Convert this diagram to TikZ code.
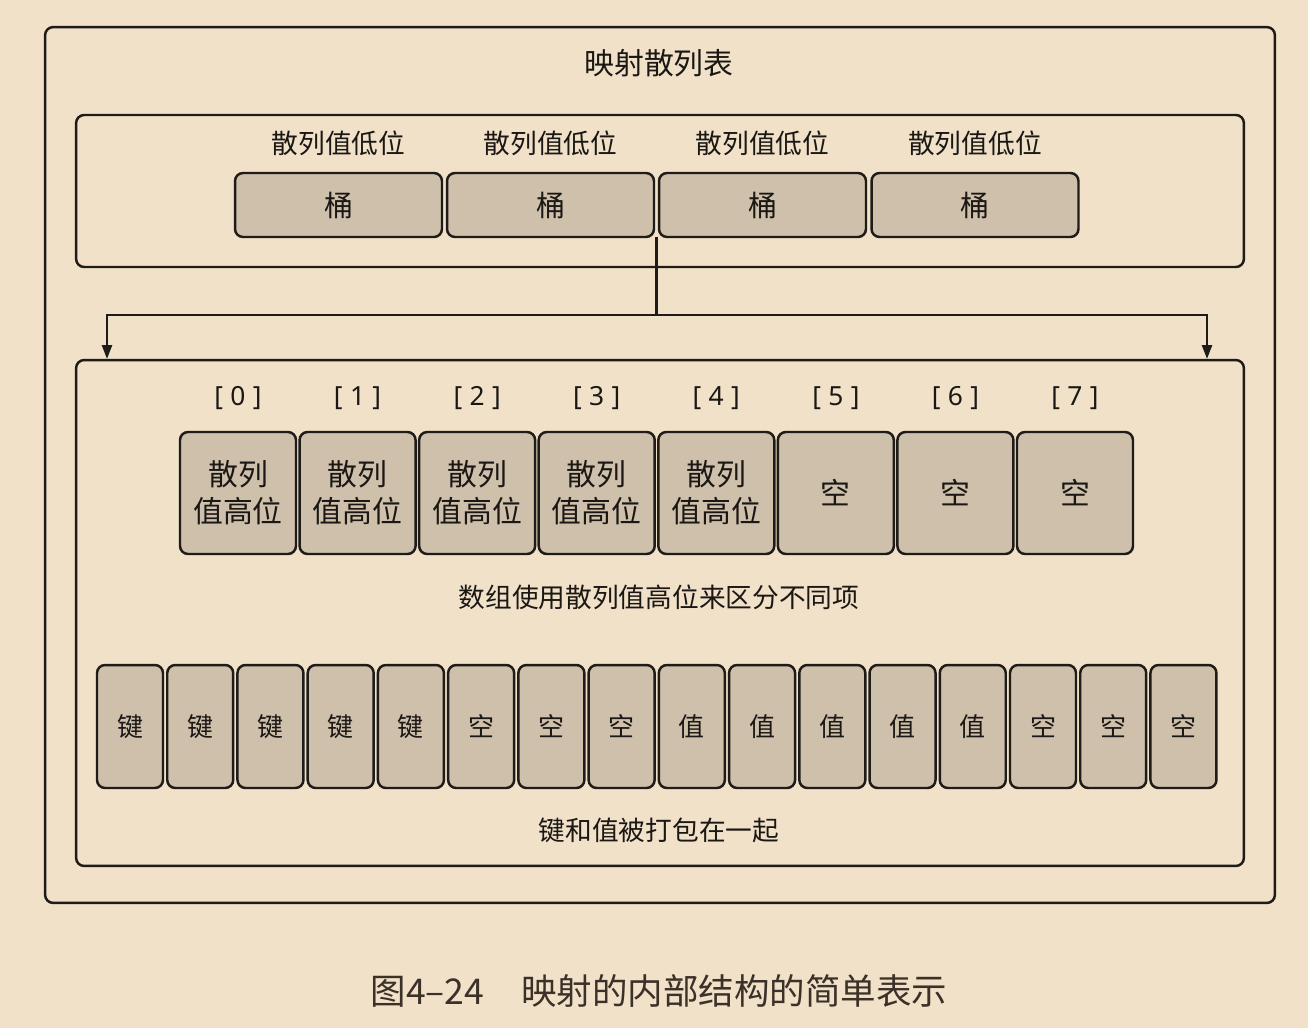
\documentclass[tikz,border=0pt]{standalone}
\usepackage{fontspec}
\setmainfont{Noto Sans CJK SC}
\newfontfamily\latinfont{Noto Sans}
\usetikzlibrary{arrows.meta}
\definecolor{bg}{HTML}{F0E1C8}
\definecolor{cellfill}{HTML}{CEC0AB}
\definecolor{linec}{HTML}{1E1B18}
\definecolor{inkc}{HTML}{1A1714}
\definecolor{capc}{HTML}{3B3129}
\tikzset{
  frame/.style={draw=linec, line width=1.4pt, rounded corners=0.16cm, fill=bg, inner sep=0pt},
  cell/.style={draw=linec, line width=1.4pt, rounded corners=0.16cm, fill=cellfill, inner sep=0pt, text=inkc},
  bucket/.style={cell, minimum width=4.14cm, minimum height=1.28cm, font=\fontsize{16.5pt}{19pt}\selectfont},
  slot/.style={cell, minimum width=2.32cm, minimum height=2.44cm, align=center, font=\fontsize{17pt}{21pt}\selectfont},
  pair/.style={cell, minimum width=1.32cm, minimum height=2.46cm, font=\fontsize{14.8pt}{17pt}\selectfont},
  label/.style={text=inkc, inner sep=0pt, font=\fontsize{15.2pt}{18pt}\selectfont},
  index/.style={text=inkc, inner sep=0pt, font=\latinfont\fontsize{15pt}{18pt}\selectfont},
  link/.style={draw=linec, line width=1.4pt},
  feed/.style={link, -{Triangle[length=0.28cm, width=0.2cm]}},
}
\begin{document}
\begin{tikzpicture}[x=0.02cm, y=-0.02cm]
  \useasboundingbox[fill=bg] (0,0) rectangle (1308,1028);

  % outer frame and its title
  \node[frame, minimum width=24.6cm, minimum height=17.52cm] (outer) at (660,465) {};
  \node[label, font=\fontsize{17pt}{20pt}\selectfont] (title) at (659,63) {映射散列表};

  % bucket array
  \node[frame, minimum width=23.36cm, minimum height=3.04cm] (upper) at (660,191) {};
  \foreach \i/\x in {0/338.5, 1/550.5, 2/762.5, 3/975} {
    \node[label] (low\i) at (\x,143) {散列值低位};
    \node[bucket] (b\i) at (\x,205) {桶};
  }

  % one bucket in detail
  \node[frame, minimum width=23.36cm, minimum height=10.12cm] (lower) at (660,613) {};
  \foreach \i in {0,...,7} {
    \pgfmathsetmacro{\xx}{238+119.57*\i}
    \node[index] (idx\i) at (\xx,398) {[\hspace{0.28em}\i\hspace{0.28em}]};
  }
  \foreach \i in {0,...,4} {
    \pgfmathsetmacro{\xx}{238+119.57*\i}
    \node[slot] (s\i) at (\xx,493) {散列\\值高位};
  }
  \foreach \i in {5,6,7} {
    \pgfmathsetmacro{\xx}{238+119.57*\i}
    \node[slot] (s\i) at (\xx,493) {空};
  }
  \node[label] (tophash) at (659,597) {数组使用散列值高位来区分不同项};

  \foreach \i/\t in {0/键,1/键,2/键,3/键,4/键,5/空,6/空,7/空,8/值,9/值,10/值,11/值,12/值,13/空,14/空,15/空} {
    \pgfmathsetmacro{\xx}{130+70.23*\i}
    \node[pair] (p\i) at (\xx,726.5) {\t};
  }
  \node[label] (packed) at (659,830) {键和值被打包在一起};

  % connector from the buckets to the detailed bucket
  \coordinate (split) at (656.5,237);
  \coordinate (junction) at (656.5,315);
  \coordinate (endL) at (107,359);
  \coordinate (endR) at (1207,359);
  \draw[link] (split) -- (junction);
  \draw[feed] (junction) -| (endL);
  \draw[feed] (junction) -| (endR);

  % figure caption
  \node[text=capc, inner sep=0pt, font=\fontsize{20.2pt}{24pt}\selectfont] (caption) at (659,991)
    {图4–24\hspace{1.05em}映射的内部结构的简单表示};
\end{tikzpicture}
\end{document}
